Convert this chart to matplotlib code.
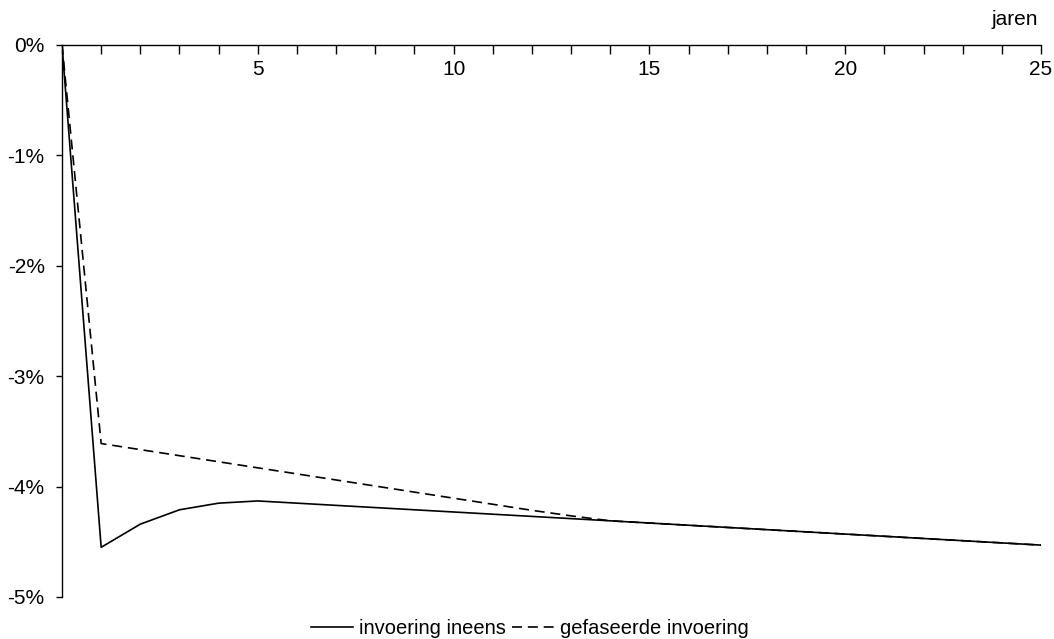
import matplotlib.pyplot as plt

plt.rcParams['font.family'] = ['Liberation Sans', 'DejaVu Sans']

years = list(range(0, 26))
ineens = [0.0, -4.55, -4.34, -4.21, -4.15, -4.13, -4.15, -4.17, -4.19, -4.21,
          -4.23, -4.25, -4.27, -4.29, -4.31, -4.33, -4.35, -4.37, -4.39, -4.41,
          -4.43, -4.45, -4.47, -4.49, -4.51, -4.53]
gefaseerd = [0.0, -3.61, -3.665, -3.72, -3.775, -3.83, -3.885, -3.94, -3.995, -4.05,
             -4.105, -4.16, -4.215, -4.265, -4.31, -4.33, -4.35, -4.37, -4.39, -4.41,
             -4.43, -4.45, -4.47, -4.49, -4.51, -4.53]
xticks = [5, 10, 15, 20, 25]
yticks = [0, -1, -2, -3, -4, -5]

fig = plt.figure(figsize=(10.54, 6.39), dpi=100)
ax = fig.add_axes([62/1054, 1-597/639, (1041-62)/1054, (597-45)/639])

l1, = ax.plot(years, ineens, color='black', lw=1.2, label='invoering ineens')
l2, = ax.plot(years, gefaseerd, color='black', lw=1.2, ls=(0, (6, 3.5)), label='gefaseerde invoering')

ax.set_xlim(0, 25)
ax.set_ylim(-5, 0)
ax.spines['top'].set_visible(False)
ax.spines['right'].set_visible(False)
ax.spines['bottom'].set_position(('data', 0))
ax.spines['bottom'].set_linewidth(1.0)
ax.spines['left'].set_linewidth(1.0)

ax.set_xticks(range(0, 26))
ax.set_xticklabels([str(t) if t in xticks else '' for t in range(0, 26)])
ax.set_yticks(yticks)
ax.set_yticklabels([f'{v}%' for v in yticks])
ax.tick_params(axis='x', direction='out', length=6.5, width=1, labelsize=15, pad=4)
ax.tick_params(axis='y', direction='out', length=4.5, width=1, labelsize=15, pad=8)

fig.text(1038/1054, 1-25/639, 'jaren', ha='right', va='baseline', fontsize=15)

fig.legend(handles=[l1, l2], loc='center', bbox_to_anchor=(530/1054, 1-629/639),
           ncol=2, frameon=False, fontsize=14.5, handlelength=2.1, handletextpad=0.3,
           columnspacing=0.3, borderpad=0)

fig.savefig('out.png', dpi=100)
